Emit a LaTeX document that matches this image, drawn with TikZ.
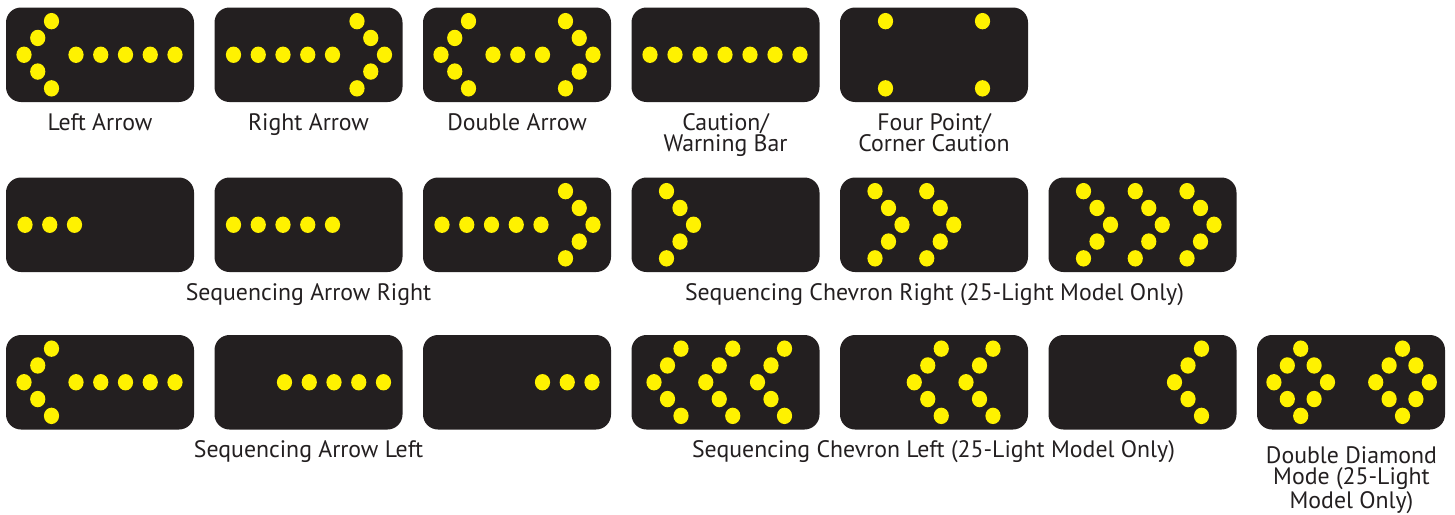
\documentclass[tikz,border=0pt]{standalone}
\usepackage{fontspec}
\setmainfont{PT Sans}
\usetikzlibrary{positioning}
\definecolor{boardblack}{HTML}{231F20}
\definecolor{lampyellow}{HTML}{FFF200}
% one lamp, a row of lamps, a chevron of five lamps (tip x, step), a diamond of eight lamps (centre x, step)
\newcommand{\lampat}[2]{\fill[lamp] (#1,#2) ellipse [x radius=7.6pt,y radius=8.2pt];}
\newcommand{\lamprow}[3]{\foreach \i in {1,...,#3} {\lampat{{#1+(\i-1)*(#2)}}{47.25}}}
\newcommand{\lampchevron}[2]{\lampat{#1}{47.25}
  \lampat{{#1+(#2)}}{30.45}\lampat{{#1+(#2)}}{64.05}
  \lampat{{#1+2*(#2)}}{13.65}\lampat{{#1+2*(#2)}}{80.85}}
\newcommand{\lampdiamond}[2]{\lampat{#1}{13.65}\lampat{#1}{80.85}
  \lampat{{#1-(#2)}}{30.45}\lampat{{#1+(#2)}}{30.45}
  \lampat{{#1-(#2)}}{64.05}\lampat{{#1+(#2)}}{64.05}
  \lampat{{#1-2*(#2)}}{47.25}\lampat{{#1+2*(#2)}}{47.25}}

\begin{document}
\begin{tikzpicture}[line cap=round,line join=round,x=1pt,y=-1pt,
  board/.style={fill=boardblack,rounded corners=15pt},
  lamp/.style={fill=lampyellow},
  caption/.style={text=boardblack,font=\fontsize{23.8}{21.5}\selectfont,inner sep=0pt,anchor=base,align=center}]
\useasboundingbox (0,0) rectangle (1455,514);
% boards
\foreach \bx in {6,214.5,423,631.5,840}
  \fill[board] (\bx,7.5) rectangle ++(188,94.5);
\foreach \bx in {6,214.5,423,631.5,840,1048.5}
  \fill[board] (\bx,177.5) rectangle ++(188,94.5);
\foreach \bx in {6,214.5,423,631.5,840,1048.5,1257}
  \fill[board] (\bx,335) rectangle ++(188,94.5);
% first row
\begin{scope}[shift={(6,7.5)}]
\lampchevron{18}{13.75}\lamprow{70}{24.75}{5}
\end{scope}
\begin{scope}[shift={(214.5,7.5)}]
\lampchevron{170}{-13.75}\lamprow{19}{24.75}{5}
\end{scope}
\begin{scope}[shift={(423,7.5)}]
\lampchevron{18}{13.75}\lamprow{70}{24.75}{3}\lampchevron{170}{-13.75}
\end{scope}
\begin{scope}[shift={(631.5,7.5)}]
\lamprow{18.5}{25}{7}
\end{scope}
\begin{scope}[shift={(840,7.5)}]
\lampat{45.5}{13.65}\lampat{142.5}{13.65}
\lampat{45.5}{80.85}\lampat{142.5}{80.85}
\end{scope}
% second row
\begin{scope}[shift={(6,177.5)}]
\lamprow{19}{24.75}{3}
\end{scope}
\begin{scope}[shift={(214.5,177.5)}]
\lamprow{19}{24.75}{5}
\end{scope}
\begin{scope}[shift={(423,177.5)}]
\lamprow{19}{24.75}{5}\lampchevron{170}{-13.75}
\end{scope}
\begin{scope}[shift={(631.5,177.5)}]
\lampchevron{62}{-13.5}
\end{scope}
\begin{scope}[shift={(840,177.5)}]
\foreach \k in {0,1} {\lampchevron{62+51.75*\k}{-13.5}}
\end{scope}
\begin{scope}[shift={(1048.5,177.5)}]
\foreach \k in {0,1,2} {\lampchevron{62+51.75*\k}{-13.5}}
\end{scope}
% third row
\begin{scope}[shift={(6,335)}]
\lampchevron{18}{13.75}\lamprow{70}{24.75}{5}
\end{scope}
\begin{scope}[shift={(214.5,335)}]
\lamprow{70}{24.75}{5}
\end{scope}
\begin{scope}[shift={(423,335)}]
\lamprow{119.5}{24.75}{3}
\end{scope}
\begin{scope}[shift={(631.5,335)}]
\foreach \k in {0,1,2} {\lampchevron{126-51.75*\k}{13.5}}
\end{scope}
\begin{scope}[shift={(840,335)}]
\foreach \k in {0,1} {\lampchevron{126-51.75*\k}{13.5}}
\end{scope}
\begin{scope}[shift={(1048.5,335)}]
\lampchevron{126}{13.5}
\end{scope}
\begin{scope}[shift={(1257,335)}]
\lampdiamond{43.7}{13.4}\lampdiamond{145.5}{13.4}
\end{scope}
% captions (multi-line ones sit on the baseline of their last line)
\node[caption] (leftarrow) at (100,130) {Left Arrow};
\node[caption] (rightarrow) at (308.5,130) {Right Arrow};
\node[caption] (doublearrow) at (517,130) {Double Arrow};
\node[caption] (cautionbar) at (725.5,151.5) {Caution/\\Warning Bar};
\node[caption] (fourpoint) at (934,151.5) {Four Point/\\Corner Caution};
\node[caption] (seqarrowright) at (308.5,300) {Sequencing Arrow Right};
\node[caption] (seqchevronright) at (934.5,300) {Sequencing Chevron Right (25-Light Model Only)};
\node[caption] (seqarrowleft) at (308.5,457) {Sequencing Arrow Left};
\node[caption] (seqchevronleft) at (933.5,457) {Sequencing Chevron Left (25-Light Model Only)};
\node[caption] (doublediamond) at (1351.5,508) {Double Diamond\\Mode (25-Light\\Model Only)};
\end{tikzpicture}
\end{document}
